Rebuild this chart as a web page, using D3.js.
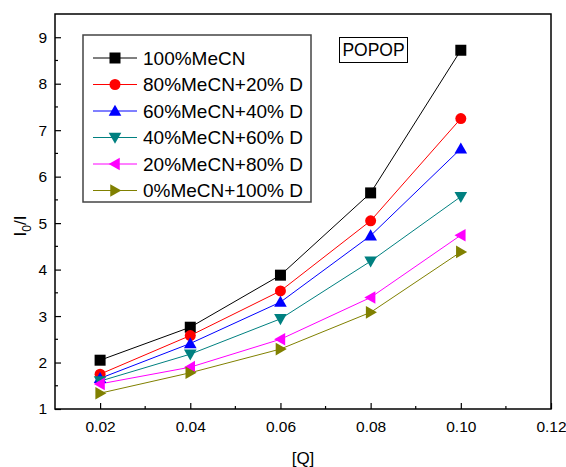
<!DOCTYPE html>
<html>
<head>
<meta charset="utf-8">
<script src="https://cdn.jsdelivr.net/npm/d3@7"></script>
<style>
  body { margin: 0; background: #fff; }
  text { font-family: "Liberation Sans", Arial, sans-serif; }
</style>
</head>
<body>
<div id="chart"></div>
<script>
const concentrations = [0.02, 0.04, 0.06, 0.08, 0.10];
const seriesNames = ["100%MeCN", "80%MeCN+20% D", "60%MeCN+40% D", "40%MeCN+60% D", "20%MeCN+80% D", "0%MeCN+100% D"];
const seriesColors = ["#000000", "#ff0000", "#0000ff", "#008080", "#ff00ff", "#808000"];
const seriesShapes = ["square", "circle", "up", "down", "left", "right"];
const mecn100 = [2.05, 2.76, 3.88, 5.65, 8.72];
const mecn80 = [1.75, 2.58, 3.54, 5.05, 7.25];
const mecn60 = [1.66, 2.41, 3.3, 4.73, 6.6];
const mecn40 = [1.6, 2.18, 2.94, 4.18, 5.57];
const mecn20 = [1.54, 1.9, 2.5, 3.4, 4.74];
const mecn0 = [1.34, 1.78, 2.29, 3.08, 4.38];
const xTicks = [0.02, 0.04, 0.06, 0.08, 0.10, 0.12];
const yTicks = [1, 2, 3, 4, 5, 6, 7, 8, 9];

const allSeries = [mecn100, mecn80, mecn60, mecn40, mecn20, mecn0];

const width = 566, height = 467;
const margin = {top: 14, right: 15, bottom: 58, left: 55};

const svg = d3.select("#chart")
  .append("svg")
  .attr("width", width)
  .attr("height", height);

const x = d3.scaleLinear()
  .domain([0.01, 0.12])
  .range([margin.left, width - margin.right]);

const y = d3.scaleLinear()
  .domain([1, 9.5])
  .range([height - margin.bottom, margin.top]);

// marker path centred on 0,0
function marker(shape, s) {
  const h = s / 2;
  if (shape == "square") return `M${-h},${-h}H${h}V${h}H${-h}Z`;
  if (shape == "circle") return `M${h},0A${h},${h} 0 1,1 ${-h},0A${h},${h} 0 1,1 ${h},0Z`;
  const t = h * 1.15;
  if (shape == "up") return `M0,${-t}L${t},${t * 0.75}L${-t},${t * 0.75}Z`;
  if (shape == "down") return `M0,${t}L${t},${-t * 0.75}L${-t},${-t * 0.75}Z`;
  if (shape == "left") return `M${-t},0L${t * 0.75},${-t}L${t * 0.75},${t}Z`;
  return `M${t},0L${-t * 0.75},${-t}L${-t * 0.75},${t}Z`;
}

// axes, ticks pointing inward
const xAxis = d3.axisBottom(x)
  .tickValues(xTicks)
  .tickFormat(d3.format(".2f"))
  .tickSizeInner(-6)
  .tickSizeOuter(0)
  .tickPadding(12);

const gx = svg.append("g")
  .attr("transform", `translate(0,${height - margin.bottom})`)
  .call(xAxis);

gx.selectAll(".minor")
  .data([0.03, 0.05, 0.07, 0.09, 0.11])
  .enter()
  .append("line")
  .attr("x1", d => x(d)).attr("x2", d => x(d))
  .attr("y1", 0).attr("y2", -3)
  .attr("stroke", "#000").attr("stroke-width", 1.2);

const yAxis = d3.axisLeft(y)
  .tickValues(yTicks)
  .tickSizeInner(-6)
  .tickSizeOuter(0)
  .tickPadding(8);

const gy = svg.append("g")
  .attr("transform", `translate(${margin.left},0)`)
  .call(yAxis);

gy.selectAll(".minor")
  .data([1.5, 2.5, 3.5, 4.5, 5.5, 6.5, 7.5, 8.5])
  .enter()
  .append("line")
  .attr("x1", 0).attr("x2", 3)
  .attr("y1", d => y(d)).attr("y2", d => y(d))
  .attr("stroke", "#000").attr("stroke-width", 1.2);

[gx, gy].forEach(g => {
  g.select(".domain").remove();
  g.selectAll(".tick line").attr("stroke-width", 1.2);
  g.selectAll(".tick text")
    .attr("font-size", 15.5)
    .attr("fill", "#000")
    .style("font-family", "Liberation Sans, Arial, sans-serif");
});

// frame
svg.append("rect")
  .attr("x", x(0.01))
  .attr("y", y(9.5))
  .attr("width", x(0.12) - x(0.01))
  .attr("height", y(1) - y(9.5))
  .attr("fill", "none")
  .attr("stroke", "#000")
  .attr("stroke-width", 1.5);

// series
const line = d3.line()
  .x((d, i) => x(concentrations[i]))
  .y(d => y(d));

allSeries.forEach((vals, k) => {
  svg.append("path")
    .datum(vals)
    .attr("d", line)
    .attr("fill", "none")
    .attr("stroke", seriesColors[k])
    .attr("stroke-width", 1);
});

allSeries.forEach((vals, k) => {
  svg.selectAll(".m" + k)
    .data(vals)
    .enter()
    .append("path")
    .attr("class", "m" + k)
    .attr("transform", (d, i) => `translate(${x(concentrations[i])},${y(d)})`)
    .attr("d", marker(seriesShapes[k], 11))
    .attr("fill", seriesColors[k]);
});

// legend
const legend = svg.append("g");

legend.append("rect")
  .attr("x", 83).attr("y", 35)
  .attr("width", 228).attr("height", 167)
  .attr("fill", "#fff")
  .attr("stroke", "#444")
  .attr("stroke-width", 1.5);

seriesNames.forEach((name, k) => {
  const ly = 58 + k * 26.5;
  legend.append("line")
    .attr("x1", 93).attr("x2", 137)
    .attr("y1", ly).attr("y2", ly)
    .attr("stroke", seriesColors[k])
    .attr("stroke-width", 1);
  legend.append("path")
    .attr("transform", `translate(115,${ly})`)
    .attr("d", marker(seriesShapes[k], 11))
    .attr("fill", seriesColors[k]);
  legend.append("text")
    .attr("x", 143).attr("y", ly)
    .attr("dy", "0.36em")
    .attr("font-size", 19)
    .text(name);
});

// POPOP label
svg.append("rect")
  .attr("x", 339.5).attr("y", 37.5)
  .attr("width", 68).attr("height", 25)
  .attr("fill", "#fff")
  .attr("stroke", "#000")
  .attr("stroke-width", 1);

svg.append("text")
  .attr("x", 373.5).attr("y", 50)
  .attr("dy", "0.36em")
  .attr("text-anchor", "middle")
  .attr("font-size", 17.5)
  .text("POPOP");

// axis titles
svg.append("text")
  .attr("x", (x(0.01) + x(0.12)) / 2)
  .attr("y", 458)
  .attr("dy", "0.36em")
  .attr("text-anchor", "middle")
  .attr("font-size", 17)
  .text("[Q]");

const yl = svg.append("text")
  .attr("transform", "translate(26,226) rotate(-90)")
  .attr("text-anchor", "middle")
  .attr("font-size", 17);
yl.append("tspan").text("I");
yl.append("tspan").attr("font-size", 12).attr("dy", 5).text("0");
yl.append("tspan").attr("dy", -5).text("/I");
</script>
</body>
</html>
